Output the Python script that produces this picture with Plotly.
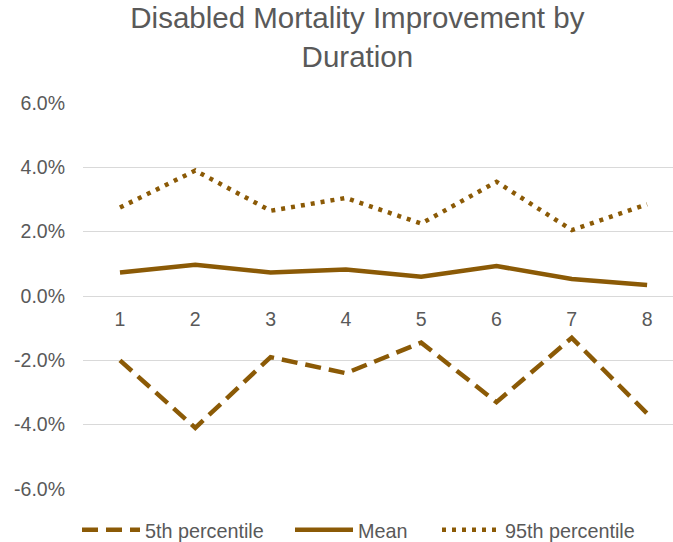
import plotly.graph_objects as go

durations = [1, 2, 3, 4, 5, 6, 7, 8]
p5 = [-0.020, -0.041, -0.019, -0.024, -0.0145, -0.033, -0.013, -0.0365]
mean = [0.0073, 0.0097, 0.0073, 0.0082, 0.0060, 0.0093, 0.0053, 0.0034]
p95 = [0.0275, 0.0390, 0.0265, 0.0305, 0.0225, 0.0355, 0.0205, 0.0285]
y_ticks = [-0.06, -0.04, -0.02, 0.0, 0.02, 0.04, 0.06]
y_ticktext = ["-6.0%", "-4.0%", "-2.0%", "0.0%", "2.0%", "4.0%", "6.0%"]

color = "#8B5A06"
gray = "#595959"
font = "Liberation Sans, Arial, sans-serif"

fig = go.Figure()
fig.add_trace(go.Scatter(x=durations, y=p5, mode="lines", name="5th percentile",
                         legend="legend",
                         line=dict(color=color, width=4.5, dash="16px,8px")))
fig.add_trace(go.Scatter(x=durations, y=mean, mode="lines", name="Mean",
                         legend="legend2",
                         line=dict(color=color, width=4.5)))
fig.add_trace(go.Scatter(x=durations, y=p95, mode="lines", name="95th percentile",
                         legend="legend3",
                         line=dict(color=color, width=4.5, dash="4px,6px")))

def leg(xpx):
    return dict(orientation="h", x=xpx / 673, xref="container", xanchor="left",
                y=1 - 530 / 542, yref="container", yanchor="middle",
                itemwidth=58, font=dict(size=19.8, color=gray, family=font),
                bgcolor="rgba(0,0,0,0)")

fig.update_layout(
    width=673, height=542,
    margin=dict(l=83, r=0, t=103, b=53, autoexpand=False),
    paper_bgcolor="white", plot_bgcolor="white",
    font=dict(family=font, color=gray, size=19),
    title=dict(text="Disabled Mortality Improvement by<br>Duration",
               x=0.531, xanchor="center", y=0.948, yanchor="top",
               yref="container",
               font=dict(size=29.5, color=gray, family=font)),
    showlegend=True,
    legend=leg(77), legend2=leg(290), legend3=leg(437),
    xaxis=dict(range=[0.509, 8.344], tickmode="array", tickvals=durations,
               ticktext=[str(d) for d in durations],
               showgrid=False, zeroline=False, showline=False,
               anchor="free", position=0.5, ticks="", ticklabelstandoff=9,
               tickfont=dict(size=19.5, color=gray), automargin=False),
    yaxis=dict(range=[-0.06, 0.06], tickmode="array", tickvals=y_ticks,
               ticktext=y_ticktext, showgrid=True, gridcolor="#D9D9D9", gridwidth=1.3,
               zeroline=False, showline=False, ticks="", ticklabelstandoff=17,
               tickfont=dict(size=19.5, color=gray), automargin=False),
)

fig.write_html("out.html")
